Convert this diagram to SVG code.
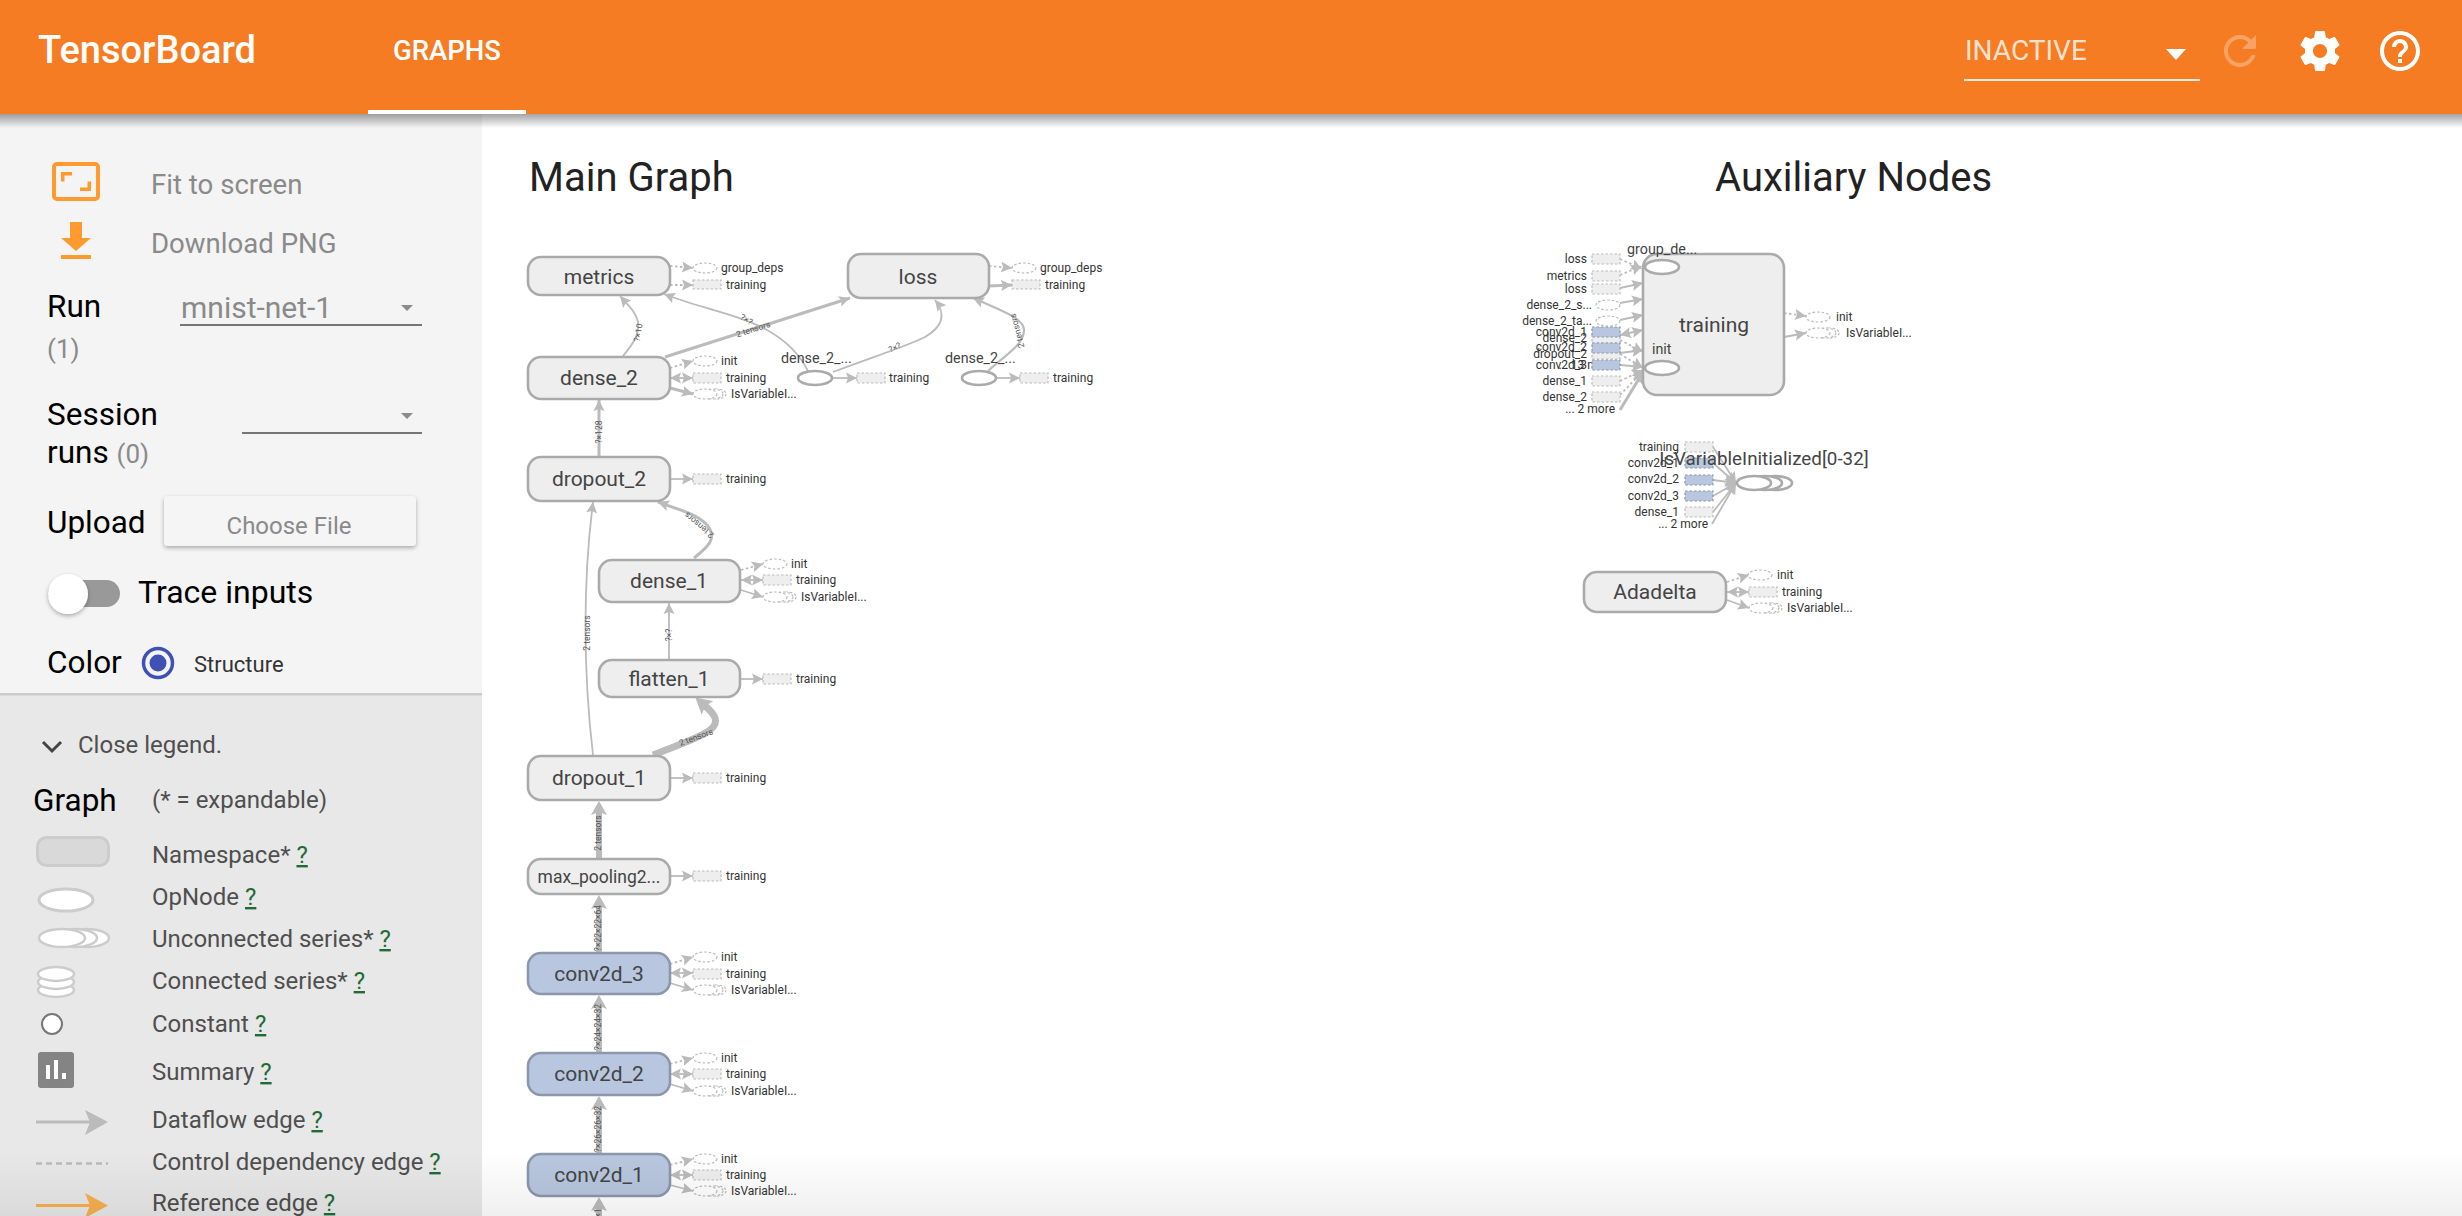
<svg xmlns="http://www.w3.org/2000/svg" width="2462" height="1216" viewBox="0 0 2462 1216">
<style>
text{font-family:Roboto,"Noto Sans",sans-serif}
.nd{fill:#eee;stroke:#aaa;stroke-width:2.6}
.bl{fill:#b8c7df;stroke:#8c97ab;stroke-width:2.6}
.nl{font-size:21px;fill:#444;text-anchor:middle}
.op{fill:#fff;stroke:#aaa;stroke-width:2.6}
.ol{font-size:14.3px;fill:#444}
.ar{fill:#fff;stroke:#bbb;stroke-width:1.2;stroke-dasharray:2.5 2}
.ag{fill:#eee;stroke:#bbb;stroke-width:1.2;stroke-dasharray:2.5 2}
.ab{fill:#b8c7df;stroke:#8c97ab;stroke-width:1.2;stroke-dasharray:2.5 2}
.at{font-size:12px;fill:#333}
.te{text-anchor:end}
.e{fill:none;stroke:#bbb;stroke-width:1.8;marker-end:url(#h)}
.e2{fill:none;stroke:#bbb;stroke-width:3;marker-end:url(#h)}
.e5{fill:none;stroke:#bbb;stroke-width:6;marker-end:url(#hl)}
.e7{fill:none;stroke:#bbb;stroke-width:7;marker-end:url(#hx)}
.d{fill:none;stroke:#bbb;stroke-width:1.8;stroke-dasharray:2.5 2.5;marker-end:url(#h)}
.b{fill:none;stroke:#bbb;stroke-width:1.8;marker-end:url(#h);marker-start:url(#h)}
.el{font-size:8.5px;fill:#555;text-anchor:middle}
.sb{font-size:31.5px;fill:#000}
.gr{fill:#8a8a8a}
.lg{font-size:24px;fill:#4f4f4f}
.q{fill:#1f6b35;text-decoration:underline}
.ic{fill:#ff9a2e}
</style>
<defs>
<marker id="h" markerUnits="userSpaceOnUse" markerWidth="12" markerHeight="12" refX="11" refY="6" orient="auto-start-reverse"><path d="M0,0.5L11,6L0,11.5L2,6Z" fill="#bbb"/></marker>
<marker id="hl" markerUnits="userSpaceOnUse" markerWidth="14" markerHeight="16" refX="6" refY="8" orient="auto"><path d="M0,0L14,8L0,16L3,8Z" fill="#bbb"/></marker>
<marker id="hx" markerUnits="userSpaceOnUse" markerWidth="16" markerHeight="18" refX="6" refY="9" orient="auto"><path d="M0,0L16,9L0,18L3,9Z" fill="#bbb"/></marker>
<linearGradient id="sh" x1="0" y1="0" x2="0" y2="1"><stop offset="0" stop-color="#000" stop-opacity=".36"/><stop offset="1" stop-color="#000" stop-opacity="0"/></linearGradient>
<linearGradient id="bt" x1="0" y1="0" x2="0" y2="1"><stop offset="0" stop-color="#000" stop-opacity="0"/><stop offset="1" stop-color="#000" stop-opacity=".06"/></linearGradient>
<filter id="ds" x="-20%" y="-30%" width="140%" height="170%"><feDropShadow dx="0" dy="2" stdDeviation="2" flood-color="#000" flood-opacity=".3"/></filter>
<g id="iv"><ellipse class="ar" cx="24" cy="0" rx="9" ry="5"/><ellipse class="ar" cx="20" cy="0" rx="10" ry="5"/><ellipse class="ar" cx="12" cy="0" rx="12" ry="5"/></g>
</defs>
<rect width="2462" height="1216" fill="#fff"/>

<g id="sidebar">
<rect x="0" y="114" width="482" height="581" fill="#f4f4f4"/>
<rect x="0" y="695" width="482" height="521" fill="#e8e8e8"/>
<rect x="0" y="693" width="482" height="2.5" fill="#ccc"/>
<rect x="54" y="164" width="44" height="35" rx="3" fill="none" stroke="#ff9a2e" stroke-width="4"/>
<path class="ic" d="M61,172h11v3.500h-7.500v6h-3.500zM91,191h-11v-3.500h7.500v-6h3.500z"/>
<path class="ic" d="M70,222h12v16h9L76,251L61,238h9zM61,255h30v4h-30z"/>
<text class="gr" x="151" y="194" font-size="27.6px">Fit to screen</text>
<text class="gr" x="151" y="253" font-size="27.6px">Download PNG</text>
<text class="sb" x="47" y="317">Run</text>
<text class="gr" x="47" y="358" font-size="26px">(1)</text>
<text class="gr" x="181" y="318" font-size="30px">mnist-net-1</text>
<rect x="180" y="324" width="242" height="2" fill="#757575"/>
<path class="gr" d="M401,305h12l-6,6z"/>
<text class="sb" x="47" y="425">Session</text>
<text class="sb" x="47" y="463">runs <tspan class="gr" font-size="26px">(0)</tspan></text>
<rect x="242" y="432" width="180" height="2" fill="#757575"/>
<path class="gr" d="M401,413h12l-6,6z"/>
<text class="sb" x="47" y="533">Upload</text>
<rect x="164" y="496" width="252" height="50" rx="4" fill="#f5f5f5" filter="url(#ds)"/>
<text class="gr" x="289" y="534" font-size="24px" text-anchor="middle">Choose File</text>
<rect x="48" y="580" width="72" height="27" rx="13.500" fill="#999"/>
<circle cx="68" cy="594" r="20" fill="#fff" filter="url(#ds)"/>
<text class="sb" x="138" y="603" style="font-size:32px">Trace inputs</text>
<text class="sb" x="47" y="673">Color</text>
<circle cx="158" cy="663" r="14.500" fill="none" stroke="#3f51b5" stroke-width="3.500"/>
<circle cx="158" cy="663" r="8.500" fill="#3f51b5"/>
<text x="194" y="672" font-size="22px" fill="#333">Structure</text>
<path d="M43,742l9,9l9,-9" fill="none" stroke="#444" stroke-width="3"/>
<text class="lg" x="78" y="753">Close legend.</text>
<text x="33" y="811" font-size="31.500px" fill="#000">Graph</text>
<text class="lg" x="152" y="808">(* = expandable)</text>
<rect x="37.500" y="837.500" width="71" height="28" rx="9" fill="#d9d9d9" stroke="#ccc" stroke-width="3"/>
<text class="lg" x="152" y="863">Namespace* <tspan class="q">?</tspan></text>
<ellipse cx="66" cy="900" rx="27" ry="11" fill="#fff" stroke="#ccc" stroke-width="3"/>
<text class="lg" x="152" y="905">OpNode <tspan class="q">?</tspan></text>
<ellipse cx="87" cy="938" rx="22" ry="9" fill="#fff" stroke="#ccc" stroke-width="2.500"/>
<ellipse cx="75" cy="938" rx="22" ry="9" fill="#fff" stroke="#ccc" stroke-width="2.500"/>
<ellipse cx="62" cy="938" rx="23" ry="9" fill="#fff" stroke="#ccc" stroke-width="2.500"/>
<text class="lg" x="152" y="947">Unconnected series* <tspan class="q">?</tspan></text>
<ellipse cx="56" cy="990" rx="18" ry="7" fill="#fff" stroke="#ccc" stroke-width="2.500"/>
<ellipse cx="56" cy="982" rx="18" ry="7" fill="#fff" stroke="#ccc" stroke-width="2.500"/>
<ellipse cx="56" cy="974" rx="18" ry="7" fill="#fff" stroke="#ccc" stroke-width="2.500"/>
<text class="lg" x="152" y="989">Connected series* <tspan class="q">?</tspan></text>
<circle cx="52" cy="1024" r="10" fill="#fff" stroke="#777" stroke-width="2"/>
<text class="lg" x="152" y="1032">Constant <tspan class="q">?</tspan></text>
<rect x="38" y="1052" width="36" height="36" rx="3" fill="#848484"/>
<path d="M46,1065h4v14h-4zM54,1060h4v19h-4zM62,1073h4v6h-4z" fill="#fff"/>
<text class="lg" x="152" y="1080">Summary <tspan class="q">?</tspan></text>
<path d="M36,1122H90" stroke="#bbb" stroke-width="3"/>
<path d="M85,1110L108,1122L85,1135L90,1122Z" fill="#bbb"/>
<text class="lg" x="152" y="1128">Dataflow edge <tspan class="q">?</tspan></text>
<path d="M36,1163.500H108" stroke="#bbb" stroke-width="2.500" stroke-dasharray="6 4"/>
<text class="lg" x="152" y="1170">Control dependency edge <tspan class="q">?</tspan></text>
<path d="M36,1205.500H90" stroke="#f7b04e" stroke-width="3"/>
<path d="M85,1193L108,1205.500L85,1218L90,1205.500Z" fill="#f7b04e"/>
<text class="lg" x="152" y="1211">Reference edge <tspan class="q">?</tspan></text>
</g>

<text x="529" y="191" font-size="40px" fill="#222">Main Graph</text>
<text x="1715" y="191" font-size="40px" fill="#222">Auxiliary Nodes</text>

<g id="connectors">
<path class="e" d="M623,356C632,345 640,335 638,322C636,312 628,305 620,296"/>
<path class="e2" d="M665,357L850,298"/>
<path class="e" d="M808,371C800,355 785,340 767,330C740,315 700,308 664,294"/>
<path class="e" d="M833,372C870,358 910,345 925,337C942,327 947,315 935,300"/>
<path class="e" style="stroke-width:2.200" d="M988,371C1005,355 1024,345 1024,330C1024,318 1000,310 973,298"/>
<path class="e2" d="M599,457V400"/>
<path class="e" d="M593,755C583,670 583,580 593,502"/>
<path class="e2" d="M694,558C708,547 718,538 707,525C697,514 680,510 658,502"/>
<path class="e" d="M669,660V603"/>
<path class="e7" d="M653,755C680,744 700,738 710,730C720,722 716,715 703,704"/>
<path class="e5" d="M599,859V809"/>
<path class="e5" d="M599,953V903"/>
<path class="e5" d="M599,1053V1003"/>
<path class="e5" d="M599,1154V1104"/>
<path class="e5" d="M599,1216V1205"/>
<path class="d" d="M670,266L693,268"/><path class="d" d="M670,285L693,285"/>
<path class="d" d="M989,266L1012,268"/><path class="e2" d="M989,286L1012,285"/>
<path class="d" d="M670,368L693,361"/><path class="b" d="M670,378H693"/><path class="e2" d="M670,388L693,394"/>
<path class="e" d="M670,479H693"/>
<path class="e" d="M832,378H857"/><path class="e" d="M996,378H1020"/>
<path class="d" d="M741,570L763,564"/><path class="b" d="M741,580H763"/><path class="e" d="M741,590L763,597"/>
<path class="e" d="M740,679H763"/>
<path class="e" d="M670,778H693"/>
<path class="e" d="M670,876H693"/>
<path class="d" d="M670,964L693,957"/><path class="b" d="M670,973H693"/><path class="e" d="M670,983L693,990"/>
<path class="d" d="M670,1064L693,1058"/><path class="b" d="M670,1074H693"/><path class="e" d="M670,1084L693,1091"/>
<path class="d" d="M670,1165L693,1159"/><path class="b" d="M670,1175H693"/><path class="e" d="M670,1185L693,1191"/>
<path class="d" d="M1620,259L1642,269"/><path class="d" d="M1620,275L1642,266"/>
<path class="e" d="M1620,288L1643,283"/><path class="e" d="M1620,303L1643,299"/><path class="e" d="M1620,320L1643,315"/>
<path class="b" d="M1620,335L1643,330"/><path class="d" d="M1620,340L1643,352"/><path class="e" d="M1620,353L1643,350"/>
<path class="d" d="M1620,354L1643,368"/><path class="e" d="M1620,365L1643,367"/><path class="d" d="M1620,381L1643,370"/><path class="d" d="M1620,395L1643,371"/><path class="e2" d="M1620,410L1643,372"/>
<path class="d" d="M1784,313L1806,316"/><path class="e" d="M1784,337L1806,333"/>
<path class="e" d="M1713,447L1736,483"/><path class="e" d="M1713,463L1736,483"/><path class="e" d="M1713,480L1736,483"/><path class="e" d="M1713,496L1736,483"/><path class="e" d="M1713,512L1736,483"/><path class="e" d="M1712,524L1736,483"/>
<path class="d" d="M1727,582L1749,575"/><path class="b" d="M1727,592H1749"/><path class="e" d="M1727,600L1749,608"/>
</g>

<g id="edge-labels">
<text class="el" transform="translate(641,333) rotate(-80)">?×10</text>
<text class="el" transform="translate(754,332) rotate(-18)">2 tensors</text>
<text class="el" transform="translate(745,322) rotate(30)">?×?</text>
<text class="el" transform="translate(896,350) rotate(-25)">?×?</text>
<text class="el" transform="translate(1020,330) rotate(-105)">2 tensors</text>
<text class="el" transform="translate(602,432) rotate(-90)">?×128</text>
<text class="el" transform="translate(590,633) rotate(-90)">2 tensors</text>
<text class="el" transform="translate(701,523) rotate(-140)">2 tensors</text>
<text class="el" transform="translate(672,635) rotate(-90)">?×?</text>
<text class="el" transform="translate(697,740) rotate(-20)">2 tensors</text>
<text class="el" transform="translate(601,833) rotate(-90)">2 tensors</text>
<text class="el" transform="translate(601,928) rotate(-90)">?×22×22×64</text>
<text class="el" transform="translate(601,1027) rotate(-90)">?×24×24×32</text>
<text class="el" transform="translate(601,1129) rotate(-90)">?×26×26×32</text>
<text class="el" transform="translate(601,1213) rotate(-90)">×1</text>
</g>

<g id="metrics"><rect class="nd" x="528" y="257" width="142" height="38" rx="13"/><text class="nl" x="599" y="284">metrics</text>
<ellipse class="ar" cx="705" cy="268" rx="12" ry="5"/><text class="at" x="721" y="272">group_deps</text><rect class="ag" x="693" y="280" width="28" height="9"/><text class="at" x="726" y="289">training</text></g>
<g id="loss"><rect class="nd" x="848" y="254" width="141" height="44" rx="13"/><text class="nl" x="918" y="284">loss</text>
<ellipse class="ar" cx="1024" cy="268" rx="12" ry="5"/><text class="at" x="1040" y="272">group_deps</text><rect class="ag" x="1012" y="280" width="28" height="9"/><text class="at" x="1045" y="289">training</text></g>
<g id="dense_2"><rect class="nd" x="528" y="357" width="142" height="42" rx="13"/><text class="nl" x="599" y="385">dense_2</text>
<ellipse class="ar" cx="705" cy="361" rx="12" ry="5"/><text class="at" x="721" y="365">init</text><rect class="ag" x="693" y="373" width="28" height="10"/><text class="at" x="726" y="382">training</text><use href="#iv" x="693" y="394"/><text class="at" x="731" y="398">IsVariableI...</text></g>
<g id="dense_2_op1"><ellipse class="op" cx="815" cy="378" rx="17" ry="7"/><text class="ol" x="781" y="363">dense_2_...</text><rect class="ag" x="857" y="373" width="28" height="10"/><text class="at" x="889" y="382">training</text></g>
<g id="dense_2_op2"><ellipse class="op" cx="979" cy="378" rx="17" ry="7"/><text class="ol" x="945" y="363">dense_2_...</text><rect class="ag" x="1020" y="373" width="28" height="10"/><text class="at" x="1053" y="382">training</text></g>
<g id="dropout_2"><rect class="nd" x="528" y="457" width="142" height="44" rx="13"/><text class="nl" x="599" y="486">dropout_2</text><rect class="ag" x="693" y="474" width="28" height="10"/><text class="at" x="726" y="483">training</text></g>
<g id="dense_1"><rect class="nd" x="599" y="560" width="141" height="42" rx="13"/><text class="nl" x="669" y="588">dense_1</text>
<ellipse class="ar" cx="775" cy="564" rx="12" ry="5"/><text class="at" x="791" y="568">init</text><rect class="ag" x="763" y="575" width="28" height="10"/><text class="at" x="796" y="584">training</text><use href="#iv" x="763" y="597"/><text class="at" x="801" y="601">IsVariableI...</text></g>
<g id="flatten_1"><rect class="nd" x="599" y="660" width="141" height="37" rx="13"/><text class="nl" x="669" y="686">flatten_1</text><rect class="ag" x="763" y="674" width="28" height="10"/><text class="at" x="796" y="683">training</text></g>
<g id="dropout_1"><rect class="nd" x="528" y="756" width="142" height="44" rx="13"/><text class="nl" x="599" y="785">dropout_1</text><rect class="ag" x="693" y="773" width="28" height="10"/><text class="at" x="726" y="782">training</text></g>
<g id="max_pooling2"><rect class="nd" x="528" y="859" width="142" height="35" rx="13"/><text class="nl" x="599" y="883" style="font-size:17.500px">max_pooling2...</text><rect class="ag" x="693" y="871" width="28" height="10"/><text class="at" x="726" y="880">training</text></g>
<g id="conv2d_3"><rect class="bl" x="528" y="953" width="142" height="41" rx="13"/><text class="nl" x="599" y="981">conv2d_3</text>
<ellipse class="ar" cx="705" cy="957" rx="12" ry="5"/><text class="at" x="721" y="961">init</text><rect class="ag" x="693" y="969" width="28" height="10"/><text class="at" x="726" y="978">training</text><use href="#iv" x="693" y="990"/><text class="at" x="731" y="994">IsVariableI...</text></g>
<g id="conv2d_2"><rect class="bl" x="528" y="1053" width="142" height="42" rx="13"/><text class="nl" x="599" y="1081">conv2d_2</text>
<ellipse class="ar" cx="705" cy="1058" rx="12" ry="5"/><text class="at" x="721" y="1062">init</text><rect class="ag" x="693" y="1069" width="28" height="10"/><text class="at" x="726" y="1078">training</text><use href="#iv" x="693" y="1091"/><text class="at" x="731" y="1095">IsVariableI...</text></g>
<g id="conv2d_1"><rect class="bl" x="528" y="1154" width="142" height="42" rx="13"/><text class="nl" x="599" y="1182">conv2d_1</text>
<ellipse class="ar" cx="705" cy="1159" rx="12" ry="5"/><text class="at" x="721" y="1163">init</text><rect class="ag" x="693" y="1170" width="28" height="10"/><text class="at" x="726" y="1179">training</text><use href="#iv" x="693" y="1191"/><text class="at" x="731" y="1195">IsVariableI...</text></g>

<g id="training"><rect class="nd" x="1643" y="254" width="141" height="141" rx="14"/><text class="nl" x="1714" y="332">training</text>
<ellipse class="op" cx="1662" cy="267" rx="17" ry="7"/><text class="ol" x="1627" y="254">group_de...</text>
<ellipse class="op" cx="1662" cy="368" rx="17" ry="7"/><text class="ol" x="1652" y="354">init</text></g>
<g id="training-inputs">
<rect class="ag" x="1592" y="254" width="28" height="10"/><text class="at te" x="1587" y="263">loss</text>
<rect class="ag" x="1592" y="271" width="28" height="10"/><text class="at te" x="1587" y="280">metrics</text>
<rect class="ag" x="1592" y="284" width="28" height="10"/><text class="at te" x="1587" y="293">loss</text>
<ellipse class="ar" cx="1608" cy="305" rx="12" ry="5"/><text class="at te" x="1592" y="309">dense_2_s...</text>
<ellipse class="ar" cx="1608" cy="321" rx="12" ry="5"/><text class="at te" x="1592" y="325">dense_2_ta...</text>
<text class="at te" x="1587" y="342">dense_2</text><rect class="ag" x="1592" y="333" width="28" height="10"/>
<text class="at te" x="1587" y="358">dropout_2</text><rect class="ag" x="1592" y="349" width="28" height="10"/>
<text class="at te" x="1615" y="369">... 13 more</text>
<rect class="ab" x="1592" y="327" width="28" height="10"/><text class="at te" x="1587" y="336">conv2d_1</text>
<rect class="ab" x="1592" y="343" width="28" height="10"/><text class="at te" x="1587" y="351">conv2d_2</text>
<rect class="ab" x="1592" y="360" width="28" height="10"/><text class="at te" x="1587" y="369">conv2d_3</text>
<rect class="ag" x="1592" y="376" width="28" height="10"/><text class="at te" x="1587" y="385">dense_1</text>
<rect class="ag" x="1592" y="392" width="28" height="10"/><text class="at te" x="1587" y="401">dense_2</text>
<text class="at te" x="1615" y="413">... 2 more</text>
<ellipse class="ar" cx="1818" cy="317" rx="12" ry="5"/><text class="at" x="1836" y="321">init</text>
<use href="#iv" x="1806" y="333"/><text class="at" x="1846" y="337">IsVariableI...</text></g>
<g id="isvariable"><rect class="ag" x="1685" y="442" width="28" height="10"/><text class="at te" x="1679" y="451">training</text>
<text class="at te" x="1679" y="467">conv2d_1</text><rect class="ab" x="1685" y="458" width="28" height="10"/>
<rect class="ab" x="1685" y="475" width="28" height="10"/><text class="at te" x="1679" y="483">conv2d_2</text>
<rect class="ab" x="1685" y="491" width="28" height="10"/><text class="at te" x="1679" y="500">conv2d_3</text>
<rect class="ag" x="1685" y="507" width="28" height="10"/><text class="at te" x="1679" y="516">dense_1</text>
<text class="at te" x="1708" y="528">... 2 more</text>
<ellipse class="op" cx="1775" cy="483" rx="17" ry="7"/><ellipse class="op" cx="1765" cy="483" rx="17" ry="7"/><ellipse class="op" cx="1754" cy="483" rx="17" ry="7"/>
<text class="ol" x="1764" y="465" text-anchor="middle" style="font-size:18.800px">IsVariableInitialized[0-32]</text></g>
<g id="Adadelta"><rect class="nd" x="1584" y="572" width="142" height="40" rx="13"/><text class="nl" x="1655" y="599">Adadelta</text>
<ellipse class="ar" cx="1760" cy="575" rx="12" ry="5"/><text class="at" x="1777" y="579">init</text><rect class="ag" x="1749" y="587" width="28" height="10"/><text class="at" x="1782" y="596">training</text><use href="#iv" x="1749" y="608"/><text class="at" x="1787" y="612">IsVariableI...</text></g>

<rect x="0" y="1150" width="2462" height="66" fill="url(#bt)"/>

<g id="header">
<rect x="0" y="114" width="2462" height="14" fill="url(#sh)"/>
<rect x="0" y="0" width="2462" height="114" fill="#f57c23"/>
<text x="38" y="63" font-size="38px" fill="#fff" font-weight="500">TensorBoard</text>
<text x="393" y="60" font-size="27.500px" fill="#fff" font-weight="500">GRAPHS</text>
<rect x="368" y="110" width="158" height="4" fill="#fff"/>
<text x="1965" y="60" font-size="28px" fill="#fff" fill-opacity=".8">INACTIVE</text>
<rect x="1964" y="79" width="236" height="2" fill="#fff" fill-opacity=".85"/>
<path d="M2166,49h20l-10,11z" fill="#fff"/>
<path transform="translate(2216,27) scale(2)" fill="#fff" fill-opacity=".3" d="M17.650 6.350C16.200 4.900 14.210 4 12 4c-4.420 0-7.990 3.580-7.990 8s3.570 8 7.990 8c3.730 0 6.840-2.550 7.730-6h-2.080c-.82 2.330-3.040 4-5.650 4-3.310 0-6-2.690-6-6s2.690-6 6-6c1.660 0 3.140.69 4.220 1.780L13 11h7V4l-2.350 2.350z"/>
<path transform="translate(2296,27) scale(2)" fill="#fff" d="M19.430 12.980c.04-.32.07-.64.07-.98s-.03-.66-.07-.98l2.110-1.650c.19-.15.24-.42.12-.64l-2-3.460c-.12-.22-.39-.3-.61-.22l-2.490 1c-.52-.4-1.080-.73-1.690-.98l-.38-2.650C14.460 2.180 14.250 2 14 2h-4c-.25 0-.46.18-.49.42l-.38 2.650c-.61.25-1.170.59-1.690.98l-2.490-1c-.23-.09-.49 0-.61.22l-2 3.460c-.13.22-.07.49.12.64l2.110 1.650c-.04.32-.07.65-.07.98s.03.66.07.98l-2.110 1.650c-.19.15-.24.42-.12.64l2 3.460c.12.22.39.3.61.22l2.490-1c.52.4 1.080.73 1.690.98l.38 2.650c.03.24.24.42.49.42h4c.25 0 .46-.18.49-.42l.38-2.650c.61-.25 1.170-.59 1.690-.98l2.490 1c.23.09.49 0 .61-.22l2-3.460c.12-.22.07-.49-.12-.64l-2.110-1.650zM12 15.500c-1.930 0-3.500-1.570-3.500-3.500s1.570-3.500 3.500-3.500 3.500 1.570 3.500 3.500-1.570 3.500-3.500 3.500z"/>
<path transform="translate(2376,27) scale(2)" fill="#fff" d="M11 18h2v-2h-2v2zm1-16C6.480 2 2 6.480 2 12s4.480 10 10 10 10-4.480 10-10S17.520 2 12 2zm0 18c-4.410 0-8-3.590-8-8s3.590-8 8-8 8 3.590 8 8-3.590 8-8 8zm0-14c-2.210 0-4 1.790-4 4h2c0-1.100.9-2 2-2s2 .9 2 2c0 2-3 1.750-3 5h2c0-2.250 3-2.500 3-5 0-2.210-1.790-4-4-4z"/>
</g>
</svg>
